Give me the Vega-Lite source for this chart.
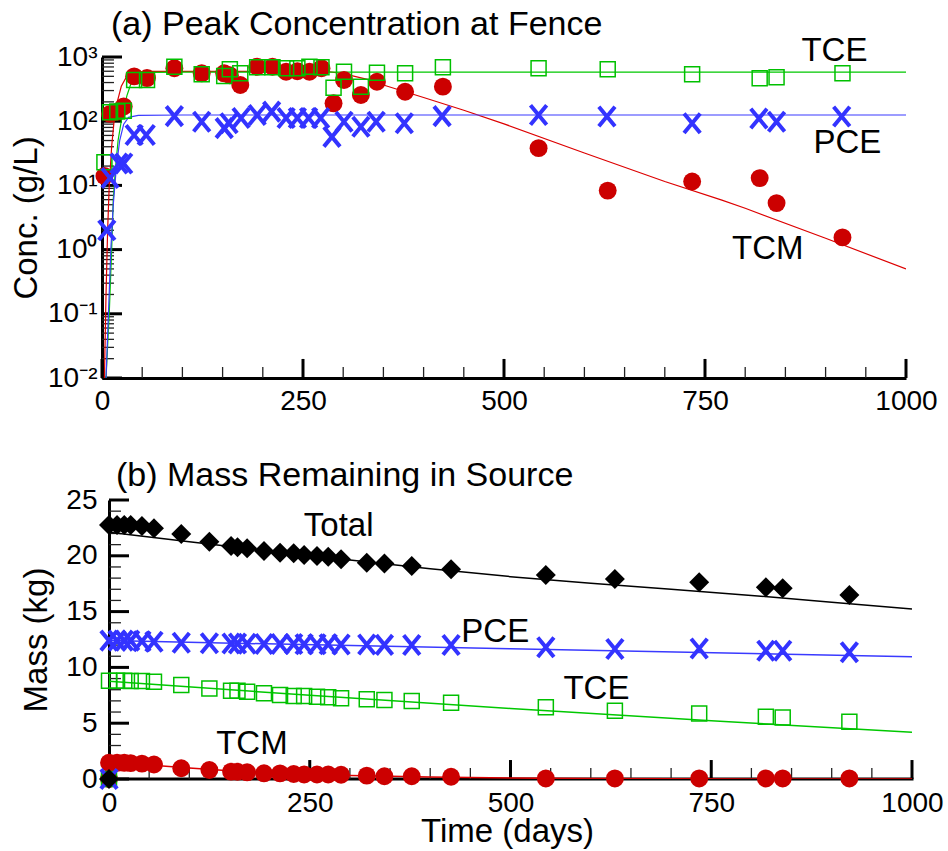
{
  "$schema": "https://vega.github.io/schema/vega-lite/v6.json",
  "background": "white",
  "padding": {"left": 10, "top": 8, "right": 5, "bottom": 5},
  "spacing": 44,
  "config": {
    "font": "Liberation Sans",
    "view": {"stroke": null},
    "axis": {"grid": false, "ticks": false, "domainColor": "black", "domainWidth": 3, "labelColor": "black", "titleColor": "black", "labelFont": "Liberation Sans", "titleFont": "Liberation Sans", "labelFontSize": 28, "titleFontSize": 33, "titleFontWeight": "normal", "labelOverlap": false, "labelFlush": false, "labelBound": false},
    "title": {"font": "Liberation Sans", "fontSize": 34, "fontWeight": "normal", "color": "black", "anchor": "start", "frame": "group"}
  },
  "datasets": {
    "xticks": [
      {"t": 0, "k": "M"}, {"t": 50, "k": "m"}, {"t": 100, "k": "m"}, {"t": 150, "k": "m"}, {"t": 200, "k": "m"}, {"t": 250, "k": "M"}, {"t": 300, "k": "m"}, {"t": 350, "k": "m"}, {"t": 400, "k": "m"}, {"t": 450, "k": "m"}, {"t": 500, "k": "M"}, {"t": 550, "k": "m"}, {"t": 600, "k": "m"}, {"t": 650, "k": "m"}, {"t": 700, "k": "m"}, {"t": 750, "k": "M"}, {"t": 800, "k": "m"}, {"t": 850, "k": "m"}, {"t": 900, "k": "m"}, {"t": 950, "k": "m"}, {"t": 1000, "k": "M"}
    ],
    "top_yticks": [
      {"v": 0.01, "k": "M"}, {"v": 0.02, "k": "m"}, {"v": 0.03, "k": "m"}, {"v": 0.04, "k": "m"}, {"v": 0.05, "k": "m"}, {"v": 0.06, "k": "m"}, {"v": 0.07, "k": "m"}, {"v": 0.08, "k": "m"}, {"v": 0.09, "k": "m"},
      {"v": 0.1, "k": "M"}, {"v": 0.2, "k": "m"}, {"v": 0.3, "k": "m"}, {"v": 0.4, "k": "m"}, {"v": 0.5, "k": "m"}, {"v": 0.6, "k": "m"}, {"v": 0.7, "k": "m"}, {"v": 0.8, "k": "m"}, {"v": 0.9, "k": "m"},
      {"v": 1, "k": "M"}, {"v": 2, "k": "m"}, {"v": 3, "k": "m"}, {"v": 4, "k": "m"}, {"v": 5, "k": "m"}, {"v": 6, "k": "m"}, {"v": 7, "k": "m"}, {"v": 8, "k": "m"}, {"v": 9, "k": "m"},
      {"v": 10, "k": "M"}, {"v": 20, "k": "m"}, {"v": 30, "k": "m"}, {"v": 40, "k": "m"}, {"v": 50, "k": "m"}, {"v": 60, "k": "m"}, {"v": 70, "k": "m"}, {"v": 80, "k": "m"}, {"v": 90, "k": "m"},
      {"v": 100, "k": "M"}, {"v": 200, "k": "m"}, {"v": 300, "k": "m"}, {"v": 400, "k": "m"}, {"v": 500, "k": "m"}, {"v": 600, "k": "m"}, {"v": 700, "k": "m"}, {"v": 800, "k": "m"}, {"v": 900, "k": "m"},
      {"v": 1000, "k": "M"}
    ],
    "bot_yticks": [
      {"v": 0, "k": "M"}, {"v": 1, "k": "m"}, {"v": 2, "k": "m"}, {"v": 3, "k": "m"}, {"v": 4, "k": "m"}, {"v": 5, "k": "M"}, {"v": 6, "k": "m"}, {"v": 7, "k": "m"}, {"v": 8, "k": "m"}, {"v": 9, "k": "m"}, {"v": 10, "k": "M"}, {"v": 11, "k": "m"}, {"v": 12, "k": "m"}, {"v": 13, "k": "m"}, {"v": 14, "k": "m"}, {"v": 15, "k": "M"}, {"v": 16, "k": "m"}, {"v": 17, "k": "m"}, {"v": 18, "k": "m"}, {"v": 19, "k": "m"}, {"v": 20, "k": "M"}, {"v": 21, "k": "m"}, {"v": 22, "k": "m"}, {"v": 23, "k": "m"}, {"v": 24, "k": "m"}, {"v": 25, "k": "M"}
    ],
    "top_pts": [
      {"t": 3, "s": "TCM", "v": 14}, {"t": 10, "s": "TCM", "v": 130}, {"t": 19, "s": "TCM", "v": 140}, {"t": 27, "s": "TCM", "v": 170}, {"t": 40, "s": "TCM", "v": 500}, {"t": 56, "s": "TCM", "v": 470}, {"t": 90, "s": "TCM", "v": 667}, {"t": 124, "s": "TCM", "v": 557}, {"t": 152, "s": "TCM", "v": 557}, {"t": 159, "s": "TCM", "v": 520}, {"t": 172, "s": "TCM", "v": 366}, {"t": 193, "s": "TCM", "v": 705}, {"t": 212, "s": "TCM", "v": 705}, {"t": 229, "s": "TCM", "v": 590}, {"t": 243, "s": "TCM", "v": 600}, {"t": 258, "s": "TCM", "v": 590}, {"t": 273, "s": "TCM", "v": 667}, {"t": 288, "s": "TCM", "v": 190}, {"t": 301, "s": "TCM", "v": 438}, {"t": 322, "s": "TCM", "v": 256}, {"t": 342, "s": "TCM", "v": 412}, {"t": 377, "s": "TCM", "v": 288}, {"t": 424, "s": "TCM", "v": 345}, {"t": 543, "s": "TCM", "v": 38}, {"t": 629, "s": "TCM", "v": 8.3}, {"t": 734, "s": "TCM", "v": 11.5}, {"t": 818, "s": "TCM", "v": 13}, {"t": 839, "s": "TCM", "v": 5.3}, {"t": 921, "s": "TCM", "v": 1.55},
      {"t": 3, "s": "TCE", "v": 23}, {"t": 10, "s": "TCE", "v": 138}, {"t": 19, "s": "TCE", "v": 141}, {"t": 27, "s": "TCE", "v": 145}, {"t": 40, "s": "TCE", "v": 440}, {"t": 56, "s": "TCE", "v": 440}, {"t": 90, "s": "TCE", "v": 705}, {"t": 124, "s": "TCE", "v": 538}, {"t": 152, "s": "TCE", "v": 505}, {"t": 159, "s": "TCE", "v": 643}, {"t": 172, "s": "TCE", "v": 557}, {"t": 193, "s": "TCE", "v": 690}, {"t": 212, "s": "TCE", "v": 690}, {"t": 229, "s": "TCE", "v": 667}, {"t": 243, "s": "TCE", "v": 667}, {"t": 258, "s": "TCE", "v": 705}, {"t": 273, "s": "TCE", "v": 690}, {"t": 288, "s": "TCE", "v": 332}, {"t": 301, "s": "TCE", "v": 590}, {"t": 322, "s": "TCE", "v": 345}, {"t": 342, "s": "TCE", "v": 570}, {"t": 377, "s": "TCE", "v": 557}, {"t": 424, "s": "TCE", "v": 690}, {"t": 543, "s": "TCE", "v": 667}, {"t": 629, "s": "TCE", "v": 643}, {"t": 734, "s": "TCE", "v": 538}, {"t": 818, "s": "TCE", "v": 466}, {"t": 839, "s": "TCE", "v": 483}, {"t": 921, "s": "TCE", "v": 557},
      {"t": 6, "s": "PCE", "v": 2.0}, {"t": 10, "s": "PCE", "v": 13}, {"t": 21, "s": "PCE", "v": 22}, {"t": 27, "s": "PCE", "v": 22}, {"t": 40, "s": "PCE", "v": 61}, {"t": 55, "s": "PCE", "v": 61}, {"t": 90, "s": "PCE", "v": 120}, {"t": 124, "s": "PCE", "v": 98}, {"t": 152, "s": "PCE", "v": 78}, {"t": 158, "s": "PCE", "v": 93}, {"t": 173, "s": "PCE", "v": 112}, {"t": 193, "s": "PCE", "v": 125}, {"t": 211, "s": "PCE", "v": 141}, {"t": 229, "s": "PCE", "v": 112}, {"t": 243, "s": "PCE", "v": 112}, {"t": 257, "s": "PCE", "v": 112}, {"t": 272, "s": "PCE", "v": 112}, {"t": 286, "s": "PCE", "v": 57}, {"t": 301, "s": "PCE", "v": 98}, {"t": 322, "s": "PCE", "v": 82}, {"t": 341, "s": "PCE", "v": 98}, {"t": 376, "s": "PCE", "v": 93}, {"t": 423, "s": "PCE", "v": 120}, {"t": 543, "s": "PCE", "v": 125}, {"t": 628, "s": "PCE", "v": 118}, {"t": 734, "s": "PCE", "v": 93}, {"t": 817, "s": "PCE", "v": 110}, {"t": 839, "s": "PCE", "v": 98}, {"t": 920, "s": "PCE", "v": 118}
    ],
    "top_fit": [
      {"t": 3, "s": "TCM", "v": 0.01}, {"t": 5, "s": "TCM", "v": 0.2}, {"t": 7, "s": "TCM", "v": 2}, {"t": 9, "s": "TCM", "v": 10}, {"t": 12, "s": "TCM", "v": 40}, {"t": 15, "s": "TCM", "v": 100}, {"t": 19, "s": "TCM", "v": 200}, {"t": 24, "s": "TCM", "v": 350}, {"t": 30, "s": "TCM", "v": 480}, {"t": 40, "s": "TCM", "v": 570}, {"t": 60, "s": "TCM", "v": 600}, {"t": 280, "s": "TCM", "v": 595}, {"t": 300, "s": "TCM", "v": 550}, {"t": 330, "s": "TCM", "v": 447}, {"t": 351, "s": "TCM", "v": 363}, {"t": 400, "s": "TCM", "v": 234}, {"t": 450, "s": "TCM", "v": 148}, {"t": 500, "s": "TCM", "v": 91}, {"t": 600, "s": "TCM", "v": 32}, {"t": 700, "s": "TCM", "v": 11.5}, {"t": 771, "s": "TCM", "v": 5.9}, {"t": 800, "s": "TCM", "v": 4.4}, {"t": 900, "s": "TCM", "v": 1.5}, {"t": 1000, "s": "TCM", "v": 0.5},
      {"t": 5, "s": "TCE", "v": 0.01}, {"t": 9, "s": "TCE", "v": 0.1}, {"t": 12, "s": "TCE", "v": 1}, {"t": 14, "s": "TCE", "v": 6}, {"t": 17, "s": "TCE", "v": 20}, {"t": 20, "s": "TCE", "v": 50}, {"t": 25, "s": "TCE", "v": 120}, {"t": 31, "s": "TCE", "v": 250}, {"t": 37, "s": "TCE", "v": 420}, {"t": 45, "s": "TCE", "v": 530}, {"t": 60, "s": "TCE", "v": 575}, {"t": 100, "s": "TCE", "v": 580}, {"t": 1000, "s": "TCE", "v": 580},
      {"t": 5, "s": "PCE", "v": 0.01}, {"t": 8, "s": "PCE", "v": 0.1}, {"t": 11, "s": "PCE", "v": 1}, {"t": 14, "s": "PCE", "v": 5}, {"t": 18, "s": "PCE", "v": 20}, {"t": 22, "s": "PCE", "v": 50}, {"t": 27, "s": "PCE", "v": 90}, {"t": 33, "s": "PCE", "v": 115}, {"t": 45, "s": "PCE", "v": 123}, {"t": 100, "s": "PCE", "v": 125}, {"t": 1000, "s": "PCE", "v": 125}
    ],
    "top_lbl": [
      {"t": 911, "v": 1240, "label": "TCE"},
      {"t": 927, "v": 45.7, "label": "PCE"},
      {"t": 828, "v": 1.02, "label": "TCM"}
    ],
    "bot_pts": [
      {"t": 0, "Total": 0, "PCE": 0, "TCE": 0, "TCM": 0},
      {"t": 0, "Total": 22.76, "PCE": 12.4, "TCE": 8.81, "TCM": 1.45},
      {"t": 10, "Total": 22.76, "PCE": 12.4, "TCE": 8.81, "TCM": 1.45},
      {"t": 19, "Total": 22.76, "PCE": 12.4, "TCE": 8.81, "TCM": 1.45},
      {"t": 27, "Total": 22.76, "PCE": 12.4, "TCE": 8.78, "TCM": 1.42},
      {"t": 41, "Total": 22.67, "PCE": 12.35, "TCE": 8.78, "TCM": 1.38},
      {"t": 56, "Total": 22.46, "PCE": 12.3, "TCE": 8.72, "TCM": 1.3},
      {"t": 90, "Total": 21.95, "PCE": 12.21, "TCE": 8.42, "TCM": 0.96},
      {"t": 125, "Total": 21.27, "PCE": 12.16, "TCE": 8.12, "TCM": 0.81},
      {"t": 152, "Total": 20.88, "PCE": 12.15, "TCE": 7.91, "TCM": 0.66},
      {"t": 160, "Total": 20.76, "PCE": 12.15, "TCE": 7.91, "TCM": 0.65},
      {"t": 172, "Total": 20.67, "PCE": 12.12, "TCE": 7.82, "TCM": 0.6},
      {"t": 193, "Total": 20.43, "PCE": 12.1, "TCE": 7.68, "TCM": 0.51},
      {"t": 213, "Total": 20.28, "PCE": 12.1, "TCE": 7.53, "TCM": 0.5},
      {"t": 230, "Total": 20.22, "PCE": 12.1, "TCE": 7.44, "TCM": 0.45},
      {"t": 243, "Total": 20.07, "PCE": 12.08, "TCE": 7.44, "TCM": 0.4},
      {"t": 259, "Total": 19.98, "PCE": 12.08, "TCE": 7.38, "TCM": 0.4},
      {"t": 273, "Total": 19.92, "PCE": 12.08, "TCE": 7.32, "TCM": 0.4},
      {"t": 289, "Total": 19.69, "PCE": 12.05, "TCE": 7.23, "TCM": 0.38},
      {"t": 321, "Total": 19.38, "PCE": 12.05, "TCE": 7.14, "TCM": 0.3},
      {"t": 343, "Total": 19.32, "PCE": 12.02, "TCE": 7.08, "TCM": 0.25},
      {"t": 377, "Total": 19.09, "PCE": 12.0, "TCE": 6.99, "TCM": 0.25},
      {"t": 426, "Total": 18.79, "PCE": 12.0, "TCE": 6.84, "TCM": 0.2},
      {"t": 544, "Total": 18.28, "PCE": 11.8, "TCE": 6.42, "TCM": 0.05},
      {"t": 630, "Total": 17.92, "PCE": 11.65, "TCE": 6.12, "TCM": 0.05},
      {"t": 735, "Total": 17.62, "PCE": 11.7, "TCE": 5.88, "TCM": 0.05},
      {"t": 818, "Total": 17.18, "PCE": 11.5, "TCE": 5.58, "TCM": 0.05},
      {"t": 839, "Total": 17.09, "PCE": 11.5, "TCE": 5.5, "TCM": 0.05},
      {"t": 922, "Total": 16.49, "PCE": 11.35, "TCE": 5.14, "TCM": 0.05}
    ],
    "bot_fit": [
      {"t": 0, "s": "Total", "v": 22.12}, {"t": 100, "s": "Total", "v": 21.25}, {"t": 200, "s": "Total", "v": 20.42}, {"t": 300, "s": "Total", "v": 19.62}, {"t": 400, "s": "Total", "v": 18.83}, {"t": 500, "s": "Total", "v": 18.13}, {"t": 600, "s": "Total", "v": 17.55}, {"t": 700, "s": "Total", "v": 17.0}, {"t": 800, "s": "Total", "v": 16.45}, {"t": 900, "s": "Total", "v": 15.84}, {"t": 1000, "s": "Total", "v": 15.23},
      {"t": 0, "s": "PCE", "v": 12.4}, {"t": 500, "s": "PCE", "v": 11.66}, {"t": 1000, "s": "PCE", "v": 10.96},
      {"t": 0, "s": "TCE", "v": 8.75}, {"t": 250, "s": "TCE", "v": 7.5}, {"t": 500, "s": "TCE", "v": 6.32}, {"t": 750, "s": "TCE", "v": 5.22}, {"t": 1000, "s": "TCE", "v": 4.18},
      {"t": 0, "s": "TCM", "v": 1.45}, {"t": 25, "s": "TCM", "v": 1.38}, {"t": 50, "s": "TCM", "v": 1.26}, {"t": 100, "s": "TCM", "v": 0.98}, {"t": 150, "s": "TCM", "v": 0.75}, {"t": 200, "s": "TCM", "v": 0.57}, {"t": 250, "s": "TCM", "v": 0.43}, {"t": 300, "s": "TCM", "v": 0.32}, {"t": 350, "s": "TCM", "v": 0.24}, {"t": 400, "s": "TCM", "v": 0.17}, {"t": 500, "s": "TCM", "v": 0.08}, {"t": 600, "s": "TCM", "v": 0.04}, {"t": 800, "s": "TCM", "v": 0.01}, {"t": 1000, "s": "TCM", "v": 0}
    ],
    "bot_lbl": [
      {"t": 286, "v": 22.7, "label": "Total"},
      {"t": 481, "v": 13.13, "label": "PCE"},
      {"t": 607, "v": 8.06, "label": "TCE"},
      {"t": 178, "v": 3.18, "label": "TCM"}
    ]
  },
  "vconcat": [
    {
      "width": 804,
      "height": 321,
      "title": {"text": "(a) Peak Concentration at Fence", "dx": 9, "offset": -7},
      "resolve": {"axis": {"x": "independent", "y": "independent"}},
      "layer": [
        {"data": {"name": "xticks"}, "transform": [{"filter": "datum.k == 'M'"}], "mark": {"type": "rule", "color": "black", "strokeWidth": 3},
          "encoding": {
            "x": {"field": "t", "type": "quantitative", "scale": {"domain": [0, 1000], "nice": false, "zero": false}, "axis": null},
            "y": {"datum": 0.01, "type": "quantitative", "scale": {"type": "log", "domain": [0.01, 1000], "nice": false}, "axis": null},
            "y2": {"datum": 0.0198}}},
        {"data": {"name": "xticks"}, "transform": [{"filter": "datum.k == 'm'"}], "mark": {"type": "rule", "color": "#222222", "strokeWidth": 1.3},
          "encoding": {
            "x": {"field": "t", "type": "quantitative", "scale": {"domain": [0, 1000], "nice": false, "zero": false}, "axis": null},
            "y": {"datum": 0.01, "type": "quantitative", "scale": {"type": "log", "domain": [0.01, 1000], "nice": false}, "axis": null},
            "y2": {"datum": 0.01483}}},
        {"data": {"name": "top_yticks"}, "transform": [{"filter": "datum.k == 'M'"}], "mark": {"type": "rule", "color": "black", "strokeWidth": 3},
          "encoding": {
            "y": {"field": "v", "type": "quantitative", "scale": {"type": "log", "domain": [0.01, 1000], "nice": false}, "axis": null},
            "x": {"datum": 0, "type": "quantitative", "scale": {"domain": [0, 1000], "nice": false, "zero": false}, "axis": null},
            "x2": {"datum": 24.9}}},
        {"data": {"name": "top_yticks"}, "transform": [{"filter": "datum.k == 'm'"}], "mark": {"type": "rule", "color": "#222222", "strokeWidth": 1.3},
          "encoding": {
            "y": {"field": "v", "type": "quantitative", "scale": {"type": "log", "domain": [0.01, 1000], "nice": false}, "axis": null},
            "x": {"datum": 0, "type": "quantitative", "scale": {"domain": [0, 1000], "nice": false, "zero": false}, "axis": null},
            "x2": {"datum": 14.9}}},
        {"data": {"name": "top_fit"}, "transform": [{"filter": "datum.s == 'TCM'"}], "mark": {"type": "line", "color": "#DD0000", "strokeWidth": 1.2, "clip": true},
          "encoding": {
            "x": {"field": "t", "type": "quantitative", "scale": {"domain": [0, 1000], "nice": false, "zero": false},
              "axis": {"orient": "bottom", "title": null, "values": [0, 250, 500, 750, 1000], "format": "d", "labelPadding": 9}},
            "y": {"field": "v", "type": "quantitative", "scale": {"type": "log", "domain": [0.01, 1000], "nice": false},
              "axis": {"orient": "left", "title": "Conc. (g/L)", "values": [0.01, 0.1, 1, 10, 100, 1000],
                "labelExpr": "'10' + (datum.value >= 999 ? '³' : datum.value >= 99 ? '²' : datum.value >= 9 ? '¹' : datum.value >= 0.9 ? '⁰' : datum.value >= 0.09 ? '⁻¹' : '⁻²')",
                "labelPadding": 5, "titlePadding": 4}}}},
        {"data": {"name": "top_fit"}, "transform": [{"filter": "datum.s == 'TCE'"}], "mark": {"type": "line", "color": "#00C800", "strokeWidth": 1.2, "clip": true},
          "encoding": {
            "x": {"field": "t", "type": "quantitative", "scale": {"domain": [0, 1000], "nice": false, "zero": false}, "axis": null},
            "y": {"field": "v", "type": "quantitative", "scale": {"type": "log", "domain": [0.01, 1000], "nice": false}, "axis": null}}},
        {"data": {"name": "top_fit"}, "transform": [{"filter": "datum.s == 'PCE'"}], "mark": {"type": "line", "color": "#3A3AFF", "strokeWidth": 1.2, "clip": true},
          "encoding": {
            "x": {"field": "t", "type": "quantitative", "scale": {"domain": [0, 1000], "nice": false, "zero": false}, "axis": null},
            "y": {"field": "v", "type": "quantitative", "scale": {"type": "log", "domain": [0.01, 1000], "nice": false}, "axis": null}}},
        {"data": {"name": "top_pts"}, "transform": [{"filter": "datum.s == 'TCM'"}], "mark": {"type": "point", "shape": "circle", "filled": true, "color": "#CC0000", "size": 320, "opacity": 1},
          "encoding": {
            "x": {"field": "t", "type": "quantitative", "scale": {"domain": [0, 1000], "nice": false, "zero": false}, "axis": null},
            "y": {"field": "v", "type": "quantitative", "scale": {"type": "log", "domain": [0.01, 1000], "nice": false}, "axis": null}}},
        {"data": {"name": "top_pts"}, "transform": [{"filter": "datum.s == 'TCE'"}], "mark": {"type": "point", "shape": "square", "filled": false, "color": "#00C000", "size": 225, "strokeWidth": 1.5, "opacity": 1},
          "encoding": {
            "x": {"field": "t", "type": "quantitative", "scale": {"domain": [0, 1000], "nice": false, "zero": false}, "axis": null},
            "y": {"field": "v", "type": "quantitative", "scale": {"type": "log", "domain": [0.01, 1000], "nice": false}, "axis": null}}},
        {"data": {"name": "top_pts"}, "transform": [{"filter": "datum.s == 'PCE'"}], "mark": {"type": "point", "shape": "M-0.83,-1L0.83,1M0.83,-1L-0.83,1", "filled": false, "color": "#3333FF", "size": 380, "strokeWidth": 4, "opacity": 1},
          "encoding": {
            "x": {"field": "t", "type": "quantitative", "scale": {"domain": [0, 1000], "nice": false, "zero": false}, "axis": null},
            "y": {"field": "v", "type": "quantitative", "scale": {"type": "log", "domain": [0.01, 1000], "nice": false}, "axis": null}}},
        {"data": {"name": "top_lbl"}, "mark": {"type": "text", "fontSize": 33, "font": "Liberation Sans", "color": "black", "align": "center", "baseline": "middle"},
          "encoding": {
            "x": {"field": "t", "type": "quantitative", "scale": {"domain": [0, 1000], "nice": false, "zero": false}, "axis": null},
            "y": {"field": "v", "type": "quantitative", "scale": {"type": "log", "domain": [0.01, 1000], "nice": false}, "axis": null},
            "text": {"field": "label"}}}
      ]
    },
    {
      "width": 810,
      "height": 279,
      "title": {"text": "(b) Mass Remaining in Source", "dx": 14, "offset": -7},
      "resolve": {"axis": {"x": "independent", "y": "independent"}},
      "layer": [
        {"data": {"values": [{}]}, "mark": {"type": "rule", "color": "black", "strokeWidth": 3, "strokeCap": "square"},
          "encoding": {
            "x": {"datum": 0, "type": "quantitative", "scale": {"domain": [-8.72, 1000], "nice": false, "zero": false}, "axis": null},
            "x2": {"datum": 1000},
            "y": {"datum": 0, "type": "quantitative", "scale": {"domain": [0, 25], "nice": false}, "axis": null}}},
        {"data": {"name": "xticks"}, "transform": [{"filter": "datum.k == 'M'"}], "mark": {"type": "rule", "color": "black", "strokeWidth": 3},
          "encoding": {
            "x": {"field": "t", "type": "quantitative", "scale": {"domain": [-8.72, 1000], "nice": false, "zero": false}, "axis": null},
            "y": {"datum": 0, "type": "quantitative", "scale": {"domain": [0, 25], "nice": false}, "axis": null},
            "y2": {"datum": 1.7}}},
        {"data": {"name": "xticks"}, "transform": [{"filter": "datum.k == 'm'"}], "mark": {"type": "rule", "color": "#222222", "strokeWidth": 1.3},
          "encoding": {
            "x": {"field": "t", "type": "quantitative", "scale": {"domain": [-8.72, 1000], "nice": false, "zero": false}, "axis": null},
            "y": {"datum": 0, "type": "quantitative", "scale": {"domain": [0, 25], "nice": false}, "axis": null},
            "y2": {"datum": 0.986}}},
        {"data": {"name": "bot_yticks"}, "transform": [{"filter": "datum.k == 'M'"}], "mark": {"type": "rule", "color": "black", "strokeWidth": 3},
          "encoding": {
            "y": {"field": "v", "type": "quantitative", "scale": {"domain": [0, 25], "nice": false}, "axis": null},
            "x": {"datum": 0, "type": "quantitative", "scale": {"domain": [-8.72, 1000], "nice": false, "zero": false}, "axis": null},
            "x2": {"datum": 24.9}}},
        {"data": {"name": "bot_yticks"}, "transform": [{"filter": "datum.k == 'm'"}], "mark": {"type": "rule", "color": "#222222", "strokeWidth": 1.3},
          "encoding": {
            "y": {"field": "v", "type": "quantitative", "scale": {"domain": [0, 25], "nice": false}, "axis": null},
            "x": {"datum": 0, "type": "quantitative", "scale": {"domain": [-8.72, 1000], "nice": false, "zero": false}, "axis": null},
            "x2": {"datum": 14.9}}},
        {"data": {"name": "bot_fit"}, "transform": [{"filter": "datum.s == 'Total'"}], "mark": {"type": "line", "color": "black", "strokeWidth": 1.5, "clip": true},
          "encoding": {
            "x": {"field": "t", "type": "quantitative", "scale": {"domain": [-8.72, 1000], "nice": false, "zero": false},
              "axis": {"orient": "bottom", "title": "Time (days)", "values": [0, 250, 500, 750, 1000], "format": "d", "domain": false, "labelPadding": 10, "titlePadding": -2}},
            "y": {"field": "v", "type": "quantitative", "scale": {"domain": [0, 25], "nice": false},
              "axis": {"orient": "left", "offset": -7, "title": "Mass (kg)", "values": [0, 5, 10, 15, 20, 25], "labelPadding": 12, "titlePadding": 12}}}},
        {"data": {"name": "bot_fit"}, "transform": [{"filter": "datum.s == 'PCE'"}], "mark": {"type": "line", "color": "#3A3AFF", "strokeWidth": 1.5, "clip": true},
          "encoding": {
            "x": {"field": "t", "type": "quantitative", "scale": {"domain": [-8.72, 1000], "nice": false, "zero": false}, "axis": null},
            "y": {"field": "v", "type": "quantitative", "scale": {"domain": [0, 25], "nice": false}, "axis": null}}},
        {"data": {"name": "bot_fit"}, "transform": [{"filter": "datum.s == 'TCE'"}], "mark": {"type": "line", "color": "#00C800", "strokeWidth": 1.5, "clip": true},
          "encoding": {
            "x": {"field": "t", "type": "quantitative", "scale": {"domain": [-8.72, 1000], "nice": false, "zero": false}, "axis": null},
            "y": {"field": "v", "type": "quantitative", "scale": {"domain": [0, 25], "nice": false}, "axis": null}}},
        {"data": {"name": "bot_fit"}, "transform": [{"filter": "datum.s == 'TCM'"}], "mark": {"type": "line", "color": "#DD0000", "strokeWidth": 1.5, "clip": true},
          "encoding": {
            "x": {"field": "t", "type": "quantitative", "scale": {"domain": [-8.72, 1000], "nice": false, "zero": false}, "axis": null},
            "y": {"field": "v", "type": "quantitative", "scale": {"domain": [0, 25], "nice": false}, "axis": null}}},
        {"data": {"name": "bot_pts"}, "mark": {"type": "point", "shape": "circle", "filled": true, "color": "#CC0000", "size": 320, "opacity": 1},
          "encoding": {
            "x": {"field": "t", "type": "quantitative", "scale": {"domain": [-8.72, 1000], "nice": false, "zero": false}, "axis": null},
            "y": {"field": "TCM", "type": "quantitative", "scale": {"domain": [0, 25], "nice": false}, "axis": null}}},
        {"data": {"name": "bot_pts"}, "mark": {"type": "point", "shape": "square", "filled": false, "color": "#00C000", "size": 225, "strokeWidth": 1.5, "opacity": 1},
          "encoding": {
            "x": {"field": "t", "type": "quantitative", "scale": {"domain": [-8.72, 1000], "nice": false, "zero": false}, "axis": null},
            "y": {"field": "TCE", "type": "quantitative", "scale": {"domain": [0, 25], "nice": false}, "axis": null}}},
        {"data": {"name": "bot_pts"}, "mark": {"type": "point", "shape": "M-0.83,-1L0.83,1M0.83,-1L-0.83,1", "filled": false, "color": "#3333FF", "size": 380, "strokeWidth": 4, "opacity": 1},
          "encoding": {
            "x": {"field": "t", "type": "quantitative", "scale": {"domain": [-8.72, 1000], "nice": false, "zero": false}, "axis": null},
            "y": {"field": "PCE", "type": "quantitative", "scale": {"domain": [0, 25], "nice": false}, "axis": null}}},
        {"data": {"name": "bot_pts"}, "mark": {"type": "point", "shape": "diamond", "filled": true, "color": "black", "size": 400, "opacity": 1},
          "encoding": {
            "x": {"field": "t", "type": "quantitative", "scale": {"domain": [-8.72, 1000], "nice": false, "zero": false}, "axis": null},
            "y": {"field": "Total", "type": "quantitative", "scale": {"domain": [0, 25], "nice": false}, "axis": null}}},
        {"data": {"name": "bot_lbl"}, "mark": {"type": "text", "fontSize": 33, "font": "Liberation Sans", "color": "black", "align": "center", "baseline": "middle"},
          "encoding": {
            "x": {"field": "t", "type": "quantitative", "scale": {"domain": [-8.72, 1000], "nice": false, "zero": false}, "axis": null},
            "y": {"field": "v", "type": "quantitative", "scale": {"domain": [0, 25], "nice": false}, "axis": null},
            "text": {"field": "label"}}}
      ]
    }
  ]
}
